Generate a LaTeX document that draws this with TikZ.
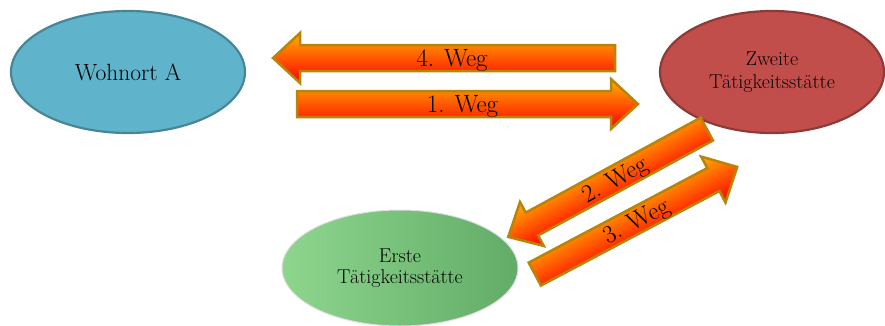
\documentclass[tikz,border=0pt]{standalone}
\usepackage{fontspec}
\usetikzlibrary{shapes.geometric}
\definecolor{wohnfill}{RGB}{95,179,203}
\definecolor{wohnline}{RGB}{72,134,150}
\definecolor{zweitfill}{RGB}{194,78,75}
\definecolor{zweitline}{RGB}{142,58,56}
\definecolor{ersteL}{RGB}{142,214,142}
\definecolor{ersteR}{RGB}{98,172,104}
\definecolor{arrline}{RGB}{184,132,10}
\definecolor{arrtop}{RGB}{255,175,0}
\definecolor{arrbot}{RGB}{255,0,0}
\tikzset{
  place/.style={ellipse, inner sep=0pt, align=center, text=black},
  wegbody/.style={draw=arrline, line width=2.5pt, line join=miter, top color=arrtop, bottom color=arrbot},
  wegtext/.style={font=\fontsize{25}{28}\selectfont, inner sep=0pt, text=black},
}
\begin{document}
\begin{tikzpicture}[x=1pt, y=1pt]
\useasboundingbox (0,0) rectangle (885,325);
% places
\node[place, draw=wohnline, line width=2.2pt, fill=wohnfill, minimum width=234pt, minimum height=122pt,
      font=\fontsize{23.5}{26}\selectfont] (wohnort) at (128,253) {Wohnort A};
\node[place, draw=zweitline, line width=2.2pt, fill=zweitfill, minimum width=224pt, minimum height=122pt,
      font=\fontsize{20}{23}\selectfont] (zweite) at (772,253) {Zweite\\Tätigkeitsstätte};
\node[place, draw=gray!25, line width=1pt, left color=ersteL, right color=ersteR, minimum width=236pt, minimum height=116pt,
      font=\fontsize{20}{21.5}\selectfont] (erste) at (400,57) {Erste\\Tätigkeitsstätte};
% arrow bodies
\begin{scope}[transform canvas={shift={(444pt,267pt)}}]
  \path[wegbody] (171,-13) -- (-144,-13) -- (-144,-25) -- (-171,0) -- (-144,25) -- (-144,13) -- (171,13) -- cycle;
\end{scope}
\begin{scope}[transform canvas={shift={(467.5pt,221pt)}}]
  \path[wegbody] (-170.5,-13) -- (143.5,-13) -- (143.5,-25) -- (170.5,0) -- (143.5,25) -- (143.5,13) -- (-170.5,13) -- cycle;
\end{scope}
\begin{scope}[transform canvas={shift={(607.5pt,142pt)}, rotate=28.5}]
  \path[wegbody] (113,-13) -- (-86,-13) -- (-86,-25) -- (-113,0) -- (-86,25) -- (-86,13) -- (113,13) -- cycle;
\end{scope}
\begin{scope}[transform canvas={shift={(636pt,104.5pt)}, rotate=27.9}]
  \path[wegbody] (-114.5,-13) -- (87.5,-13) -- (87.5,-26) -- (114.5,0) -- (87.5,26) -- (87.5,13) -- (-114.5,13) -- cycle;
\end{scope}
% arrow labels
\node[wegtext] (weg4) at (452,264) {4. Weg};
\node[wegtext] (weg1) at (462.5,218) {1. Weg};
\node[wegtext, rotate=28.5] (weg2) at (615.5,144) {2. Weg};
\node[wegtext, rotate=27.9] (weg3) at (637,102.7) {3. Weg};
\end{tikzpicture}
\end{document}
